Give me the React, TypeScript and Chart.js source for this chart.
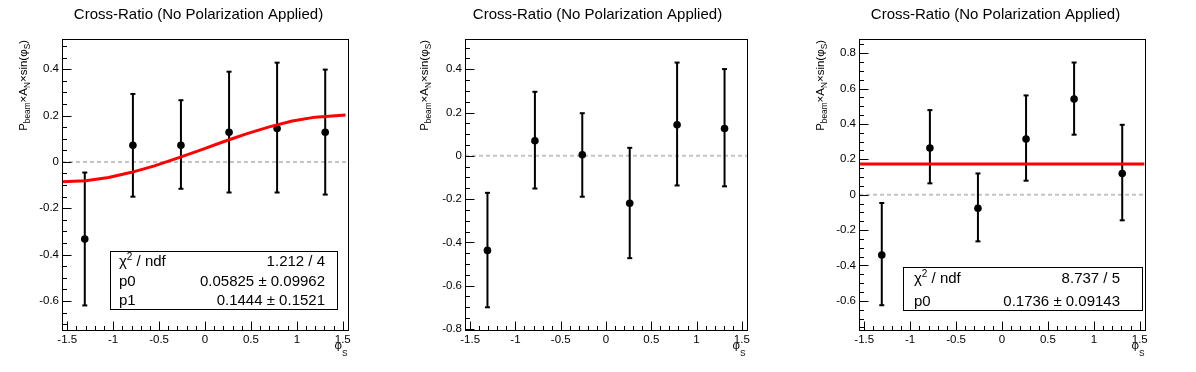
import React, { useEffect, useRef } from "react";
import { Chart, registerables } from "chart.js";

Chart.register(...registerables);

const FONT = "'Liberation Sans', Arial, Helvetica, sans-serif";

// ---------------- data ----------------
const chartTitle = "Cross-Ratio (No Polarization Applied)";
const phiS = [-1.309, -0.785, -0.262, 0.262, 0.785, 1.309];
const xTickValues = [-1.5, -1, -0.5, 0, 0.5, 1, 1.5];
const xTickLabels = ["-1.5", "-1", "-0.5", "0", "0.5", "1", "1.5"];

// panel 1
const y1 = [-0.333, 0.072, 0.072, 0.128, 0.144, 0.128];
const y1High = [-0.046, 0.293, 0.266, 0.389, 0.428, 0.398];
const y1Low = [-0.619, -0.15, -0.116, -0.132, -0.132, -0.141];
const fit1X = [-1.557, -1.3, -1.05, -0.8, -0.55, -0.3, -0.05, 0.2, 0.45, 0.7, 0.95, 1.2, 1.53];
const fit1Y = [-0.086, -0.081, -0.067, -0.045, -0.017, 0.016, 0.051, 0.087, 0.121, 0.151, 0.176, 0.193, 0.202];
const y1TickValues = [-0.6, -0.4, -0.2, 0, 0.2, 0.4];
const y1TickLabels = ["-0.6", "-0.4", "-0.2", "0", "0.2", "0.4"];
const stats1Labels = ["chi2", "p0", "p1"];
const stats1Values = ["1.212 / 4", "0.05825 ± 0.09962", "0.1444 ± 0.1521"];

// panel 2
const y2 = [-0.437, 0.07, 0.005, -0.219, 0.144, 0.126];
const y2High = [-0.171, 0.296, 0.197, 0.037, 0.431, 0.401];
const y2Low = [-0.7, -0.151, -0.189, -0.473, -0.137, -0.141];
const y2TickValues = [-0.8, -0.6, -0.4, -0.2, 0, 0.2, 0.4];
const y2TickLabels = ["-0.8", "-0.6", "-0.4", "-0.2", "0", "0.2", "0.4"];

// panel 3
const y3 = [-0.341, 0.264, -0.077, 0.315, 0.541, 0.12];
const y3High = [-0.047, 0.478, 0.12, 0.561, 0.747, 0.395];
const y3Low = [-0.625, 0.064, -0.264, 0.079, 0.339, -0.145];
const fit3X = [-1.55, 1.55];
const fit3Y = [0.1736, 0.1736];
const y3TickValues = [-0.6, -0.4, -0.2, 0, 0.2, 0.4, 0.6, 0.8];
const y3TickLabels = ["-0.6", "-0.4", "-0.2", "0", "0.2", "0.4", "0.6", "0.8"];
const stats3Labels = ["chi2", "p0"];
const stats3Values = ["8.737 / 5", "0.1736 ± 0.09143"];

// ---------------- layout / style ----------------
const H = 372;

type Box = { l: number; r: number; t: number; b: number; tx: number; vx: number; rows: number[] };
type PanelCfg = {
  left: number;
  width: number;
  frame: { l: number; r: number; t: number; b: number };
  xMin: number;
  xMax: number;
  yMin: number;
  yMax: number;
  yTicks: number[];
  yLabels: string[];
  y: number[];
  hi: number[];
  lo: number[];
  fitX?: number[];
  fitY?: number[];
  statLabels?: string[];
  statValues?: string[];
  box?: Box;
  titleX: number;
  yTitleX: number;
  xTitleRight: number;
};

const panels: PanelCfg[] = [
  {
    left: 0, width: 399,
    frame: { l: 62, r: 348, t: 39, b: 330 },
    xMin: -1.557, xMax: 1.557, yMin: -0.725, yMax: 0.53,
    yTicks: y1TickValues, yLabels: y1TickLabels,
    y: y1, hi: y1High, lo: y1Low, fitX: fit1X, fitY: fit1Y,
    statLabels: stats1Labels, statValues: stats1Values,
    box: { l: 110, r: 337, t: 251, b: 309, tx: 119, vx: 325, rows: [266, 286, 305] },
    titleX: 198.5, yTitleX: 26.5, xTitleRight: 347.5,
  },
  {
    left: 399, width: 398,
    frame: { l: 66, r: 348, t: 39, b: 330 },
    xMin: -1.557, xMax: 1.557, yMin: -0.805, yMax: 0.54,
    yTicks: y2TickValues, yLabels: y2TickLabels,
    y: y2, hi: y2High, lo: y2Low,
    titleX: 198.5, yTitleX: 28.5, xTitleRight: 346.5,
  },
  {
    left: 797, width: 399,
    frame: { l: 62, r: 348, t: 39, b: 330 },
    xMin: -1.557, xMax: 1.557, yMin: -0.765, yMax: 0.88,
    yTicks: y3TickValues, yLabels: y3TickLabels,
    y: y3, hi: y3High, lo: y3Low, fitX: fit3X, fitY: fit3Y,
    statLabels: stats3Labels, statValues: stats3Values,
    box: { l: 106, r: 345, t: 267, b: 310, tx: 117, vx: 323, rows: [283, 305.5] },
    titleX: 198.5, yTitleX: 26.5, xTitleRight: 347.5,
  },
];

type Seg = { t: string; k?: "sub" | "sup" };

function drawRich(
  ctx: CanvasRenderingContext2D,
  segs: Seg[],
  x: number,
  y: number,
  size: number,
  align: "left" | "right" | "center",
  subSize = size * 0.72,
  subDrop = size * 0.32,
  supRise = size * 0.42
) {
  let total = 0;
  for (const s of segs) {
    ctx.font = `${s.k ? subSize : size}px ${FONT}`;
    total += ctx.measureText(s.t).width;
  }
  let cx = align === "right" ? x - total : align === "center" ? x - total / 2 : x;
  ctx.textAlign = "left";
  ctx.textBaseline = "alphabetic";
  for (const s of segs) {
    const sz = s.k ? subSize : size;
    ctx.font = `${sz}px ${FONT}`;
    const dy = s.k === "sub" ? subDrop : s.k === "sup" ? -supRise : 0;
    ctx.fillText(s.t, cx, y + dy);
    cx += ctx.measureText(s.t).width;
  }
}

const yTitleSegs: Seg[] = [
  { t: "P" }, { t: "beam", k: "sub" }, { t: "×A" }, { t: "N", k: "sub" },
  { t: "×sin(φ" }, { t: "S", k: "sub" }, { t: ")" },
];
const xTitleSegs: Seg[] = [{ t: "φ" }, { t: "S", k: "sub" }];

function statLabelSegs(name: string): Seg[] {
  if (name === "chi2") return [{ t: "χ" }, { t: "2", k: "sup" }, { t: " / ndf" }];
  return [{ t: name }];
}

function makePlugin(p: PanelCfg) {
  return {
    id: "rootDecor" + p.left,
    beforeDatasetDraw(chart: any, args: any) {
      if (args.index !== 1) return;
      const ctx: CanvasRenderingContext2D = chart.ctx;
      const xs = chart.scales.x;
      const ys = chart.scales.y;
      ctx.save();
      ctx.strokeStyle = "#000";
      ctx.fillStyle = "#000";
      ctx.lineWidth = 2;
      for (let i = 0; i < phiS.length; i++) {
        const px = xs.getPixelForValue(phiS[i]);
        const top = ys.getPixelForValue(p.hi[i]);
        const bot = ys.getPixelForValue(p.lo[i]);
        ctx.beginPath();
        ctx.moveTo(px, top);
        ctx.lineTo(px, bot);
        ctx.stroke();
        ctx.fillRect(px - 2.5, top - 1, 5, 2);
        ctx.fillRect(px - 2.5, bot - 1, 5, 2);
      }
      ctx.restore();
    },
    afterDraw(chart: any) {
      const ctx: CanvasRenderingContext2D = chart.ctx;
      const a = chart.chartArea;
      const xs = chart.scales.x;
      const ys = chart.scales.y;
      ctx.save();
      // frame
      ctx.strokeStyle = "#000";
      ctx.lineWidth = 1;
      ctx.strokeRect(Math.round(a.left) + 0.5, Math.round(a.top) + 0.5, Math.round(a.right - a.left), Math.round(a.bottom - a.top));
      // x ticks (inside, bottom)
      const bY = Math.round(a.bottom) + 0.5;
      ctx.beginPath();
      for (let k = -16; k <= 16; k++) {
        const v = k / 10;
        if (v < p.xMin || v > p.xMax) continue;
        const px = Math.round(xs.getPixelForValue(v)) + 0.5;
        const len = k % 5 === 0 ? 9 : 4.5;
        ctx.moveTo(px, bY);
        ctx.lineTo(px, bY - len);
      }
      // y ticks (inside, left)
      const lX = Math.round(a.left) + 0.5;
      for (let k = -20; k <= 20; k++) {
        const v = k / 20;
        if (v < p.yMin || v > p.yMax) continue;
        const py = Math.round(ys.getPixelForValue(v)) + 0.5;
        const len = k % 4 === 0 ? 9 : 4.5;
        ctx.moveTo(lX, py);
        ctx.lineTo(lX + len, py);
      }
      ctx.stroke();

      // title
      ctx.fillStyle = "#000";
      ctx.font = `15px ${FONT}`;
      ctx.textAlign = "center";
      ctx.textBaseline = "alphabetic";
      ctx.fillText(chartTitle, p.titleX, 18.5);

      // y axis title (rotated)
      ctx.save();
      ctx.translate(p.yTitleX, 40);
      ctx.rotate(-Math.PI / 2);
      drawRich(ctx, yTitleSegs, 0, 0, 11.5, "right", 8.3, 3.6);
      ctx.restore();

      // x axis title
      drawRich(ctx, xTitleSegs, p.xTitleRight, 349, 11.5, "right", 8.3, 7);

      // stats box
      if (p.box && p.statLabels && p.statValues) {
        const b = p.box;
        ctx.fillStyle = "#fff";
        ctx.fillRect(b.l, b.t, b.r - b.l, b.b - b.t);
        ctx.strokeStyle = "#000";
        ctx.lineWidth = 1;
        ctx.strokeRect(b.l + 0.5, b.t + 0.5, b.r - b.l, b.b - b.t);
        ctx.fillStyle = "#000";
        p.statLabels.forEach((name, i) => {
          drawRich(ctx, statLabelSegs(name), b.tx, b.rows[i], 15, "left", 10, 4, 6);
          ctx.font = `15px ${FONT}`;
          ctx.textAlign = "right";
          ctx.textBaseline = "alphabetic";
          ctx.fillText(p.statValues![i], b.vx, b.rows[i]);
        });
      }
      ctx.restore();
    },
  };
}

function labelFor(values: number[], labels: string[], v: number) {
  const i = values.findIndex((u) => Math.abs(u - v) < 1e-9);
  return i >= 0 ? labels[i] : "";
}

function PanelChart({ p }: { p: PanelCfg }) {
  const ref = useRef<HTMLCanvasElement>(null);
  useEffect(() => {
    const canvas = ref.current!;
    const datasets: any[] = [
      {
        label: "fit",
        data: (p.fitX || []).map((x, i) => ({ x, y: p.fitY![i] })),
        showLine: true,
        borderColor: "#ff0000",
        borderWidth: 3,
        pointRadius: 0,
        tension: 0,
        order: 0,
      },
      {
        label: "data",
        data: phiS.map((x, i) => ({ x, y: p.y[i] })),
        showLine: false,
        pointRadius: 3.8,
        pointBackgroundColor: "#000",
        pointBorderWidth: 0,
        order: 1,
      },
      {
        label: "zero",
        data: [
          { x: p.xMin, y: 0 },
          { x: p.xMax, y: 0 },
        ],
        showLine: true,
        borderColor: "#c4c4c4",
        borderWidth: 2,
        borderDash: [4, 3],
        pointRadius: 0,
        order: 2,
      },
    ];
    const chart = new Chart(canvas, {
      type: "scatter",
      data: { datasets },
      options: {
        animation: false,
        responsive: false,
        devicePixelRatio: 1,
        events: [],
        layout: { padding: { left: 0, top: p.frame.t, right: p.width - p.frame.r, bottom: 0 } },
        plugins: { legend: { display: false }, tooltip: { enabled: false }, title: { display: false } },
        scales: {
          x: {
            type: "linear",
            min: p.xMin,
            max: p.xMax,
            grid: { display: false, drawTicks: false },
            border: { display: false },
            ticks: {
              color: "#000",
              font: { family: FONT, size: 11.5 },
              padding: 3,
              maxRotation: 0,
              autoSkip: false,
              callback: (v: any) => labelFor(xTickValues, xTickLabels, Number(v)),
            },
            afterBuildTicks: (s: any) => {
              s.ticks = xTickValues.map((v) => ({ value: v }));
            },
            afterFit: (s: any) => {
              s.height = H - p.frame.b;
            },
          },
          y: {
            type: "linear",
            min: p.yMin,
            max: p.yMax,
            grid: { display: false, drawTicks: false },
            border: { display: false },
            ticks: {
              color: "#000",
              font: { family: FONT, size: 11.5 },
              padding: 3,
              autoSkip: false,
              callback: (v: any) => labelFor(p.yTicks, p.yLabels, Number(v)),
            },
            afterBuildTicks: (s: any) => {
              s.ticks = p.yTicks.map((v) => ({ value: v }));
            },
            afterFit: (s: any) => {
              s.width = p.frame.l;
            },
          },
        },
      } as any,
      plugins: [makePlugin(p) as any],
    });
    return () => chart.destroy();
  }, [p]);
  return (
    <canvas
      ref={ref}
      width={p.width}
      height={H}
      style={{ position: "absolute", left: p.left, top: 0, width: p.width, height: H, display: "block" }}
    />
  );
}

export default function App() {
  return (
    <div style={{ position: "absolute", left: 0, top: 0, width: 1196, height: H, background: "#fff", overflow: "hidden" }}>
      {panels.map((p) => (
        <PanelChart key={p.left} p={p} />
      ))}
    </div>
  );
}
